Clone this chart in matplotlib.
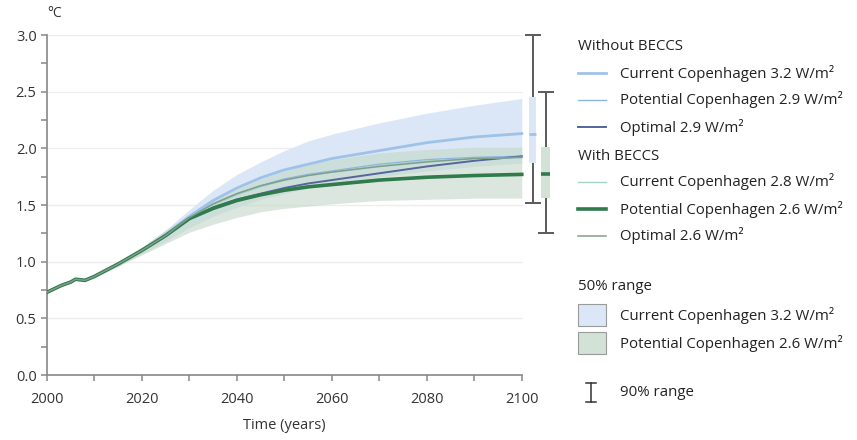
import matplotlib
matplotlib.use('Agg')
import matplotlib.pyplot as plt
from matplotlib.patches import Rectangle

plt.rcParams['font.family'] = ['Open Sans', 'DejaVu Sans']

# shared historical part and the scenario curves (deg C)
years = [2000, 2003, 2005, 2006, 2008, 2010, 2015, 2020, 2025, 2030, 2035,
         2040, 2045, 2050, 2055, 2060, 2070, 2080, 2090, 2100]
hist = [0.73, 0.79, 0.82, 0.845, 0.835, 0.87, 0.98, 1.10]

cur_32 = hist + [1.24, 1.40, 1.54, 1.65, 1.74, 1.81, 1.86, 1.91, 1.98, 2.05, 2.10, 2.13]
pot_29 = hist + [1.23, 1.39, 1.51, 1.60, 1.67, 1.73, 1.77, 1.80, 1.86, 1.90, 1.92, 1.93]
opt_29 = hist + [1.23, 1.38, 1.48, 1.55, 1.60, 1.65, 1.69, 1.72, 1.78, 1.84, 1.89, 1.93]
cur_28 = hist + [1.23, 1.39, 1.50, 1.59, 1.66, 1.72, 1.76, 1.79, 1.85, 1.89, 1.91, 1.92]
pot_26 = hist + [1.23, 1.38, 1.47, 1.54, 1.59, 1.63, 1.66, 1.68, 1.72, 1.745, 1.76, 1.77]
opt_26 = hist + [1.23, 1.39, 1.51, 1.60, 1.67, 1.72, 1.76, 1.79, 1.84, 1.88, 1.91, 1.92]

# 50% ranges
blue_hi = [0.73, 0.79, 0.82, 0.845, 0.84, 0.88, 0.99, 1.12, 1.28, 1.46, 1.63,
           1.77, 1.88, 1.98, 2.065, 2.125, 2.225, 2.31, 2.38, 2.44]
blue_lo = [0.73, 0.79, 0.82, 0.845, 0.83, 0.86, 0.96, 1.07, 1.18, 1.30, 1.40,
           1.48, 1.55, 1.60, 1.65, 1.69, 1.75, 1.80, 1.84, 1.87]
green_hi = [0.73, 0.79, 0.82, 0.845, 0.84, 0.88, 1.00, 1.13, 1.28, 1.42, 1.54,
            1.64, 1.73, 1.80, 1.86, 1.90, 1.96, 1.99, 2.01, 2.01]
green_lo = [0.73, 0.79, 0.82, 0.845, 0.83, 0.86, 0.96, 1.06, 1.16, 1.26, 1.33,
            1.39, 1.44, 1.47, 1.49, 1.51, 1.54, 1.55, 1.56, 1.56]

# ranges in 2100 drawn to the right of the plot
range_x = [2102.3, 2105.0]
range90_lo = [1.52, 1.25]
range90_hi = [3.00, 2.50]
range50_lo = [1.87, 1.56]
range50_hi = [2.45, 2.01]
range_med = [2.13, 1.77]

BLUE_FILL = '#dbe7f7'
GREEN_FILL = '#c3d8c8'
GREY = '#5a5a5a'

lines = [
    ('Current Copenhagen 3.2 W/m²', cur_32, '#9fc2e8', 2.0),
    ('Potential Copenhagen 2.9 W/m²', pot_29, '#8db3e2', 1.0),
    ('Optimal 2.9 W/m²', opt_29, '#55669a', 1.4),
    ('Current Copenhagen 2.8 W/m²', cur_28, '#a8d2c8', 1.0),
    ('Potential Copenhagen 2.6 W/m²', pot_26, '#2f7b4c', 2.6),
    ('Optimal 2.6 W/m²', opt_26, '#7e9f8a', 1.1),
]

fig = plt.figure(figsize=(8.57, 4.40), dpi=100)
ax = fig.add_axes([47 / 857, 1 - 375 / 440, (555 - 47) / 857, 340 / 440])

ax.fill_between(years, blue_lo, blue_hi, color=BLUE_FILL, lw=0, zorder=1)
ax.fill_between(years, green_lo, green_hi, color=GREEN_FILL, alpha=0.6, lw=0, zorder=2)
for label, vals, col, lw in lines:
    ax.plot(years, vals, color=col, lw=lw, zorder=3)

# 90% and 50% ranges
ax.errorbar(range_x, [(a + b) / 2 for a, b in zip(range90_lo, range90_hi)],
            yerr=[(b - a) / 2 for a, b in zip(range90_lo, range90_hi)],
            fmt='none', ecolor=GREY, elinewidth=1.4, capsize=5.5, capthick=1.4,
            clip_on=False, zorder=4)
ax.bar(range_x, [h - l for l, h in zip(range50_lo, range50_hi)], bottom=range50_lo,
       width=[1.5, 1.9], color=[BLUE_FILL, '#d3e2d6'], lw=0, zorder=5)
ax.hlines(range_med[0], range_x[0] - 0.75, range_x[0] + 0.75, color='#9fc2e8', lw=2, zorder=6)
ax.hlines(range_med[1], range_x[1] - 0.95, range_x[1] + 0.95, color='#2f7b4c', lw=2.6, zorder=6)

ax.hlines([0.5, 1.0, 1.5, 2.0, 2.5, 3.0], 2000, 2100, color='#ededed', lw=1, zorder=0)

ax.set_xlim(2000, 2107)
ax.set_ylim(0, 3.0)
for s in ['top', 'right']:
    ax.spines[s].set_visible(False)
for s in ['left', 'bottom']:
    ax.spines[s].set_color('#888888')
    ax.spines[s].set_linewidth(1.2)
ax.spines['bottom'].set_bounds(2000, 2100)
ax.set_xticks(range(2000, 2101, 20))
ax.set_xticks(range(2010, 2100, 20), minor=True)
ax.set_yticks([0, 0.5, 1.0, 1.5, 2.0, 2.5, 3.0])
ax.set_yticklabels(['0.0', '0.5', '1.0', '1.5', '2.0', '2.5', '3.0'])
ax.set_yticks([0.25, 0.75, 1.25, 1.75, 2.25, 2.75], minor=True)
ax.tick_params(which='both', direction='out', color='#888888', length=4, width=1.1,
               labelsize=10.5, labelcolor='#333333')
ax.tick_params(axis='x', pad=8)
ax.set_xlabel('Time (years)', fontsize=10.5, color='#333333')
ax.xaxis.set_label_coords(50 / 107, -0.125)
ax.text(0.0, 1.04, '°C', transform=ax.transAxes, fontsize=10, color='#333333',
        ha='left', va='bottom')

# legend drawn in pixel coordinates
lg = fig.add_axes([0, 0, 1, 1], facecolor='none')
lg.set_xlim(0, 857)
lg.set_ylim(440, 0)
lg.axis('off')
txt = dict(fontsize=10.8, color='#222222', va='center')
lg.text(578, 46, 'Without BECCS', **txt)
lg.text(578, 156, 'With BECCS', **txt)
rows = [73, 100, 127, 182, 209, 236]
for (label, vals, col, lw), y in zip(lines, rows):
    lg.plot([578, 606], [y, y], color=col, lw=lw)
    lg.text(620, y, label, **txt)
lg.text(578, 286, '50% range', **txt)
for y, col, label in [(315, BLUE_FILL, 'Current Copenhagen 3.2 W/m²'),
                      (343, '#d3e2d6', 'Potential Copenhagen 2.6 W/m²')]:
    lg.add_patch(Rectangle((578, y - 11), 28, 22, facecolor=col, edgecolor='#9a9a9a', lw=0.8))
    lg.text(620, y, label, **txt)
lg.plot([591, 591], [383, 402], color='#333333', lw=1.1)
lg.plot([586, 596], [383, 383], color='#333333', lw=1.1)
lg.plot([586, 596], [402, 402], color='#333333', lw=1.1)
lg.text(620, 393, '90% range', **txt)

fig.savefig('out.png', dpi=100)
